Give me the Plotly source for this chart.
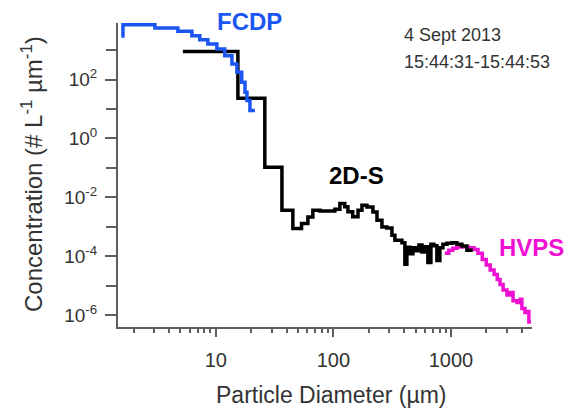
import math
import plotly.graph_objects as go

# ---------------- data ----------------
# FCDP: bin edges (um) and log10 concentration (# L-1 um-1) per bin
fcdp_edges = [1.62, 1.62, 3.03, 4.75, 6.25, 7.3, 8.55, 10.2, 11.9, 13.7, 15.1,
              16.6, 17.7, 18.4, 19.5, 21.5]
fcdp_logc = [3.42, 3.86, 3.75, 3.64, 3.49, 3.35, 3.21, 3.04, 2.81, 2.53, 2.25,
             1.91, 1.57, 1.29, 0.95]

# 2D-S
s2d_edges = [5.24, 15.4, 26.1, 36.5, 45.2, 53.6, 60.7, 66.9, 76.8, 103, 113.6,
             125, 133, 146, 162, 175, 193, 217, 235, 259, 285, 315, 334, 383,
             406, 422, 448, 475, 504, 535, 567, 601, 637, 676, 716, 760, 806,
             855, 925, 1020, 1125, 1241, 1369, 1538]
s2d_logc = [2.95, 1.36, -0.98, -2.44, -3.06, -2.89, -2.67, -2.44, -2.47, -2.41,
            -2.21, -2.32, -2.49, -2.66, -2.44, -2.27, -2.33, -2.50, -2.78, -3.01,
            -3.05, -3.29, -3.46, -3.55, -4.28, -3.70, -3.92, -3.72, -3.82, -3.62,
            -3.86, -3.68, -4.22, -3.60, -3.65, -4.15, -3.72, -3.60, -3.56, -3.55,
            -3.60, -3.66, -3.80]

# HVPS
hvps_edges = [889, 960, 1040, 1125, 1250, 1400, 1575, 1700, 1850, 2000, 2160,
              2330, 2480, 2620, 2780, 3000, 3180, 3380, 3650, 3900, 4020, 4265,
              4410, 4610, 4800]
hvps_logc = [-3.90, -3.80, -3.73, -3.69, -3.68, -3.72, -3.78, -3.90, -4.12,
             -4.30, -4.47, -4.63, -4.80, -4.97, -5.15, -5.32, -5.24, -5.52,
             -5.58, -5.47, -5.78, -5.92, -5.88, -6.24]

series_names = ["FCDP", "2D-S", "HVPS"]
date_text = "4 Sept 2013"
time_text = "15:44:31-15:44:53"
x_title = "Particle Diameter (µm)"
y_title = "Concentration (# L<sup>-1</sup> µm<sup>-1</sup>)"
x_major = [10, 100, 1000]
y_labelled = [-6, -4, -2, 0, 2]
y_minor = [-5, -3, -1, 1, 3]

# ---------------- styling ----------------
W, H = 571, 408
L, R, T, B = 118, 39, 23, 81
PW, PH = W - L - R, H - T - B
FONT = "Liberation Sans, Arial, sans-serif"
AX = "#5e5e5e"
TXT = "#333333"
BLUE = "#1b55f2"
BLACK = "#000000"
MAGENTA = "#f010d4"


def px(xp, yp):
    return (xp - L) / PW, (H - B - yp) / PH


def step_xy(edges, logc):
    ys = [10 ** v for v in logc]
    return edges, ys + [ys[-1]]


fig = go.Figure()
for (edges, logc), color, name in [((hvps_edges, hvps_logc), MAGENTA, series_names[2]),
                                   ((s2d_edges, s2d_logc), BLACK, series_names[1]),
                                   ((fcdp_edges, fcdp_logc), BLUE, series_names[0])]:
    xs, ys = step_xy(edges, logc)
    fig.add_trace(go.Scatter(x=xs, y=ys, mode="lines", name=name,
                             line=dict(color=color, width=3.5, shape="hv"),
                             showlegend=False))

minor_x = [m * 10 ** e for e in range(0, 4) for m in range(2, 10)]

fig.update_layout(
    width=W, height=H, autosize=False,
    margin=dict(l=L, r=R, t=T, b=B, pad=0),
    paper_bgcolor="white", plot_bgcolor="white",
    font=dict(family=FONT, color=TXT),
    xaxis=dict(type="log", range=[math.log10(1.47), math.log10(4900)],
               showgrid=False, zeroline=False, showline=True,
               linecolor=AX, linewidth=2, ticks="outside", ticklen=8,
               tickwidth=2, tickcolor=AX, tickmode="array",
               tickvals=x_major, ticktext=[str(v) for v in x_major],
               tickfont=dict(size=20, color=TXT), ticklabelstandoff=6,
               minor=dict(tickmode="array", tickvals=minor_x, ticks="outside",
                          ticklen=4, tickwidth=2, tickcolor=AX, showgrid=False)),
    yaxis=dict(type="log", range=[-6.41, 3.92],
               showgrid=False, zeroline=False, showline=True,
               linecolor=AX, linewidth=2, ticks="outside", ticklen=11,
               tickwidth=2, tickcolor=AX, tickmode="array",
               tickvals=[10 ** e for e in y_labelled],
               ticktext=["10<sup>%d</sup>" % e for e in y_labelled],
               tickfont=dict(size=19, color=TXT), ticklabelstandoff=4,
               minor=dict(tickmode="array", tickvals=[10 ** e for e in y_minor],
                          ticks="outside", ticklen=10, tickwidth=2, tickcolor=AX,
                          showgrid=False)),
)

ann = []
for text, (xp, yp), color, size in [
        (series_names[0], (249, 21), BLUE, 24),
        (series_names[1], (356, 175), BLACK, 24),
        (series_names[2], (531, 248), MAGENTA, 24)]:
    x, y = px(xp, yp)
    ann.append(dict(text="<b>%s</b>" % text, x=x, y=y, xref="paper", yref="paper",
                    showarrow=False, xanchor="center", yanchor="middle",
                    font=dict(size=size, color=color, family=FONT)))
for text, (xp, yp) in [(date_text, (402, 35)), (time_text, (402, 62))]:
    x, y = px(xp, yp)
    ann.append(dict(text=text, x=x, y=y, xref="paper", yref="paper",
                    showarrow=False, xanchor="left", yanchor="middle",
                    font=dict(size=18, color=TXT, family=FONT)))
x, y = px(331, 395)
ann.append(dict(text=x_title, x=x, y=y, xref="paper", yref="paper", showarrow=False,
                xanchor="center", yanchor="middle", font=dict(size=23, color=TXT, family=FONT)))
x, y = px(32, 174)
ann.append(dict(text=y_title, x=x, y=y, xref="paper", yref="paper", showarrow=False,
                textangle=-90, xanchor="center", yanchor="middle",
                font=dict(size=24, color=TXT, family=FONT)))
fig.update_layout(annotations=ann)

fig.write_html("out.html")
